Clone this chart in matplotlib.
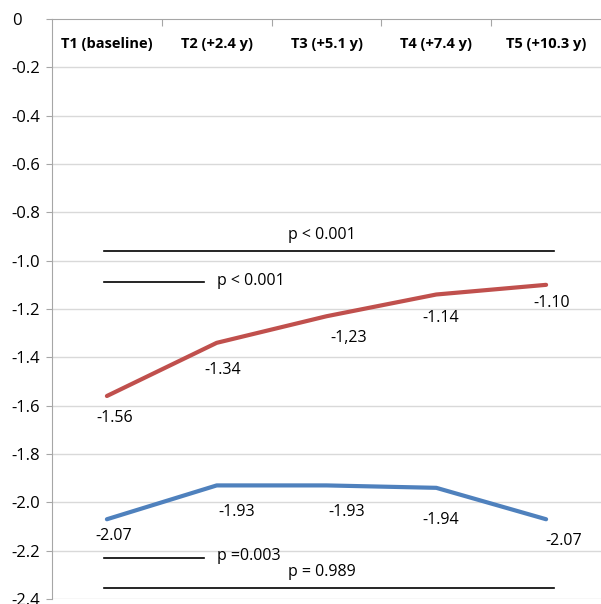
import matplotlib.pyplot as plt

# time points and mean scores
categories = ["T1 (baseline)", "T2 (+2.4 y)", "T3 (+5.1 y)", "T4 (+7.4 y)", "T5 (+10.3 y)"]
red_values = [-1.56, -1.34, -1.23, -1.14, -1.10]
red_labels = ["-1.56", "-1.34", "-1,23", "-1.14", "-1.10"]
blue_values = [-2.07, -1.93, -1.93, -1.94, -2.07]
blue_labels = ["-2.07", "-1.93", "-1.93", "-1.94", "-2.07"]
yticks = [0, -0.2, -0.4, -0.6, -0.8, -1.0, -1.2, -1.4, -1.6, -1.8, -2.0, -2.2, -2.4]
ytick_labels = ["0", "-0.2", "-0.4", "-0.6", "-0.8", "-1.0", "-1.2", "-1.4",
                "-1.6", "-1.8", "-2.0", "-2.2", "-2.4"]

plt.rcParams['font.family'] = ['Open Sans', 'DejaVu Sans']

fig = plt.figure(figsize=(6.01, 6.04), dpi=100)
ax = fig.add_axes([52 / 601, 1 - 599 / 604, 549 / 601, 580 / 604])

x = list(range(1, len(categories) + 1))
ax.set_xlim(0.5, 5.5)
ax.set_ylim(-2.4, 0)

# grid
for v in yticks[1:]:
    ax.axhline(v, color="#d9d9d9", lw=1, zorder=0)

ax.plot(x, red_values, color="#c0504d", lw=3, solid_capstyle="round", zorder=3)
ax.plot(x, blue_values, color="#4f81bd", lw=3, solid_capstyle="round", zorder=3)

# data labels (offsets in data units)
red_off = [(0.07, -0.09), (0.05, -0.112), (0.2, -0.09), (0.04, -0.097), (0.05, -0.075)]
blue_off = [(0.06, -0.069), (0.18, -0.11), (0.18, -0.11), (0.04, -0.133), (0.16, -0.09)]
for xi, v, lab, (dx, dy) in zip(x, red_values, red_labels, red_off):
    ax.text(xi + dx, v + dy, lab, ha="center", va="center", fontsize=11.5)
for xi, v, lab, (dx, dy) in zip(x, blue_values, blue_labels, blue_off):
    ax.text(xi + dx, v + dy, lab, ha="center", va="center", fontsize=11.5)

# significance brackets
ax.plot([0.97, 5.07], [-0.96, -0.96], color="black", lw=1.2)
ax.text(2.96, -0.894, "p < 0.001", ha="center", va="center", fontsize=11.5)
ax.plot([0.97, 1.88], [-1.088, -1.088], color="black", lw=1.2)
ax.text(2.0, -1.084, "p < 0.001", ha="left", va="center", fontsize=11.5)
ax.plot([0.97, 1.88], [-2.23, -2.23], color="black", lw=1.2)
ax.text(2.0, -2.222, "p =0.003", ha="left", va="center", fontsize=11.5)
ax.plot([0.97, 5.07], [-2.355, -2.355], color="black", lw=1.2)
ax.text(2.96, -2.288, "p = 0.989", ha="center", va="center", fontsize=11.5)

# category labels sit inside, under the zero line
for xi, c in zip(x, categories):
    ax.text(xi, -0.105, c, ha="center", va="center", fontsize=10.5, fontweight="bold")

ax.xaxis.tick_top()
ax.set_xticks([1.5, 2.5, 3.5, 4.5])
ax.set_xticklabels([])
ax.tick_params(axis="x", direction="in", length=5, color="#a6a6a6")

ax.set_yticks(yticks)
ax.set_yticklabels(ytick_labels, ha="left", fontsize=12)
ax.tick_params(axis="y", length=4, color="#a6a6a6", pad=25)

for s in ["right", "bottom"]:
    ax.spines[s].set_visible(False)
ax.spines["left"].set_color("#a6a6a6")
ax.spines["top"].set_color("#a6a6a6")

fig.savefig("out.png", dpi=100)
